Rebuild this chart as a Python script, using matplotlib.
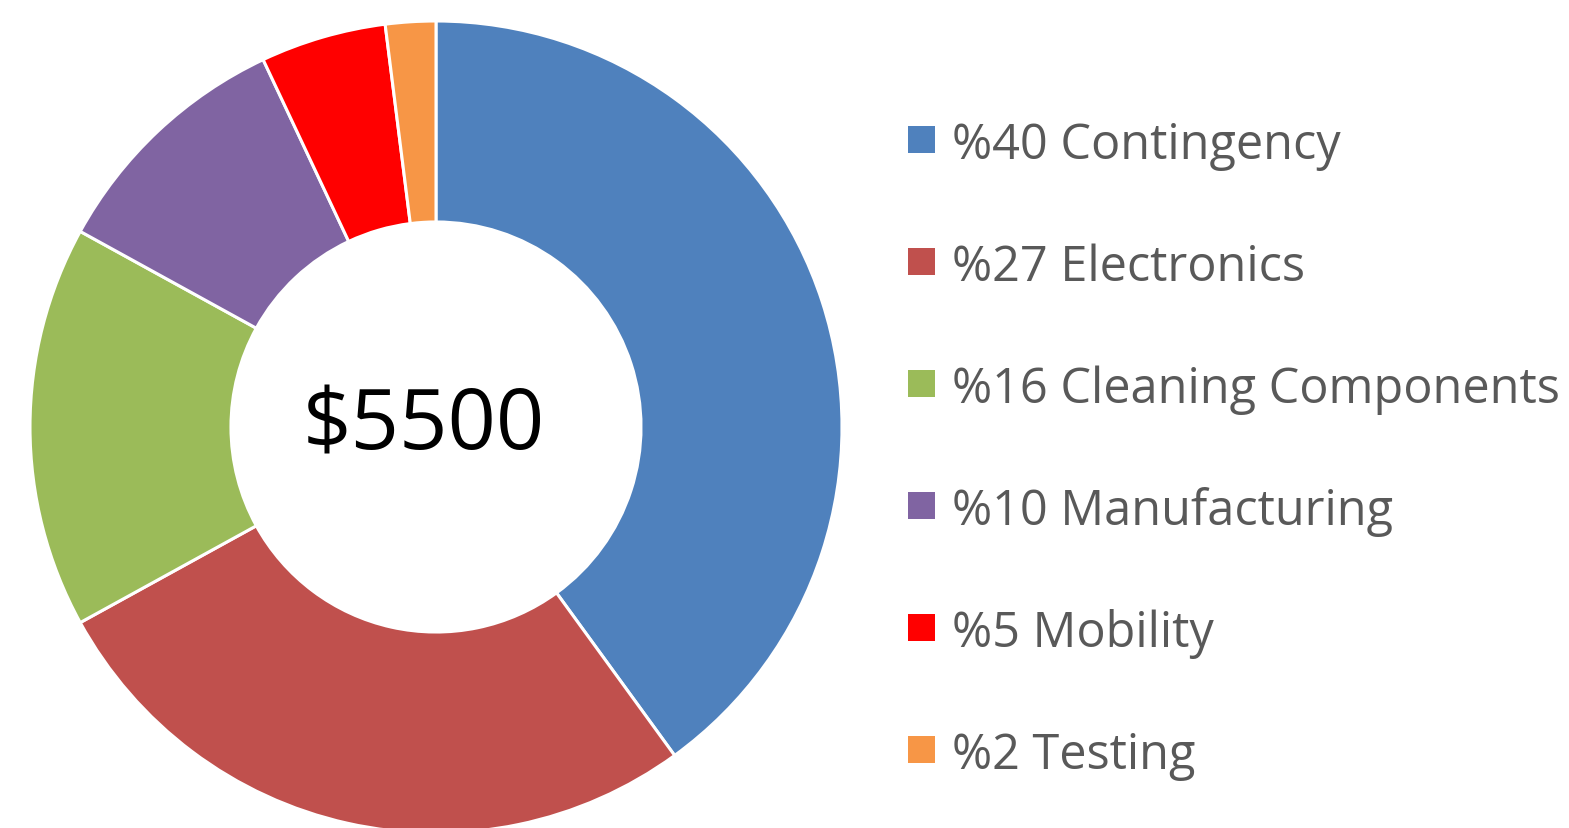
import matplotlib
matplotlib.use("Agg")
import matplotlib.pyplot as plt
from matplotlib.patches import Rectangle

categories = ["Contingency", "Electronics", "Cleaning Components", "Manufacturing", "Mobility", "Testing"]
percents = [40, 27, 16, 10, 5, 2]
colors = ["#4F81BD", "#C0504D", "#9BBB59", "#8064A2", "#FF0000", "#F79646"]
total_label = "$5500"

W, H = 1569, 829
fig = plt.figure(figsize=(W / 100, H / 100), dpi=100)
cx, cy, R = 436, 428, 406
ax = fig.add_axes([(cx - R) / W, (H - cy - R) / H, 2 * R / W, 2 * R / H])
ax.pie(percents, colors=colors, startangle=90, counterclock=False, radius=1.0,
       wedgeprops=dict(width=0.495, edgecolor="white", linewidth=2.2))
ax.set_xlim(-1, 1)
ax.set_ylim(-1, 1)
ax.set_aspect("equal")
ax.axis("off")
ax.text(-0.03, 0.0, total_label, ha="center", va="center", fontsize=61,
        family="Open Sans", color="black")

row0, step = 140, 122
for i, (c, p, col) in enumerate(zip(categories, percents, colors)):
    y = row0 + i * step
    fig.patches.append(Rectangle((908 / W, (H - y - 13.5) / H), 27 / W, 27 / H,
                                 transform=fig.transFigure, facecolor=col, edgecolor="none"))
    fig.text(952 / W, (H - y) / H, f"%{p} {c}", ha="left", va="center_baseline",
             fontsize=35, family="Open Sans", color="#595959")

fig.savefig("out.png", dpi=100)
